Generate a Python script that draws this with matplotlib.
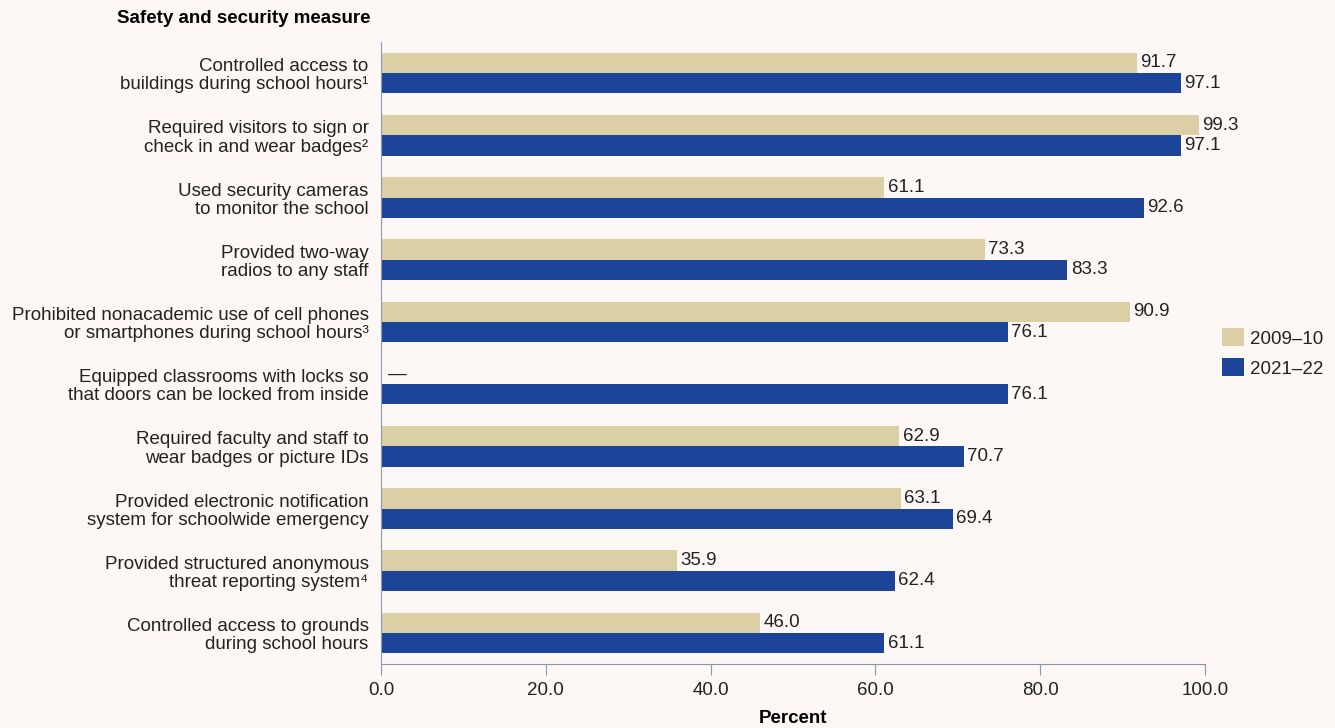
import numpy as np
import matplotlib
matplotlib.use('Agg')
import matplotlib.pyplot as plt

plt.rcParams['font.family'] = ['Liberation Sans', 'DejaVu Sans']

# Dados
medidas = [
    'Controlled access to\nbuildings during school hours¹',
    'Required visitors to sign or\ncheck in and wear badges²',
    'Used security cameras\nto monitor the school',
    'Provided two-way\nradios to any staff',
    'Prohibited nonacademic use of cell phones\nor smartphones during school hours³',
    'Equipped classrooms with locks so\nthat doors can be locked from inside',
    'Required faculty and staff to\nwear badges or picture IDs',
    'Provided electronic notification\nsystem for schoolwide emergency',
    'Provided structured anonymous\nthreat reporting system⁴',
    'Controlled access to grounds\nduring school hours',
]
valores_2009 = [91.7, 99.3, 61.1, 73.3, 90.9, np.nan, 62.9, 63.1, 35.9, 46.0]
valores_2021 = [97.1, 97.1, 92.6, 83.3, 76.1, 76.1, 70.7, 69.4, 62.4, 61.1]
anos = ['2009–10', '2021–22']
ticks_x = [0, 20, 40, 60, 80, 100]

fundo = '#FDF8F5'
cor_tan = '#DCCFA5'
cor_azul = '#1C4599'
cor_texto = '#222222'
cor_eixo = '#8A9AAE'
fs = 13.5

fig = plt.figure(figsize=(13.35, 7.28), dpi=100, facecolor=fundo)
ax = fig.add_axes([0.2854, 0.0879, 0.6172, 0.8544], facecolor=fundo)

y = np.arange(len(medidas))
h = 0.325
ax.barh(y - h / 2, np.nan_to_num(valores_2009), height=h, color=cor_tan, label=anos[0])
ax.barh(y + h / 2, valores_2021, height=h, color=cor_azul, label=anos[1])

# Rótulos dos valores
for i in range(len(medidas)):
    v1 = valores_2009[i]
    if np.isnan(v1):
        ax.text(0.8, y[i] - h / 2, '—', va='center', ha='left', fontsize=fs, color=cor_texto)
    else:
        ax.text(v1 + 0.4, y[i] - h / 2, f'{v1:.1f}', va='center', ha='left', fontsize=fs, color=cor_texto)
    v2 = valores_2021[i]
    ax.text(v2 + 0.4, y[i] + h / 2, f'{v2:.1f}', va='center', ha='left', fontsize=fs, color=cor_texto)

ax.set_xlim(0, 100)
ax.set_ylim(len(medidas) - 0.5, -0.5)
ax.set_yticks(y)
ax.set_yticklabels(medidas, fontsize=fs, color=cor_texto, linespacing=1.1)
ax.set_xticks(ticks_x)
ax.set_xticklabels([f'{t:.1f}' for t in ticks_x], fontsize=fs, color=cor_texto)
ax.tick_params(axis='y', length=0, pad=9)
ax.tick_params(axis='x', direction='out', length=8, color=cor_eixo, pad=5)

for s in ['top', 'right']:
    ax.spines[s].set_visible(False)
ax.spines['left'].set_color(cor_eixo)
ax.spines['bottom'].set_color(cor_eixo)

ax.set_xlabel('Percent', fontsize=fs, fontweight='bold', color='black', labelpad=8)
fig.text(0.2772, 0.975, 'Safety and security measure', ha='right', va='center',
         fontsize=fs, fontweight='bold', color='black')

leg = ax.legend(loc='center left', bbox_to_anchor=(1.0206, 0.5), frameon=False,
                fontsize=fs, handlelength=1.17, handleheight=1.1, handletextpad=0.33,
                labelspacing=0.55, borderaxespad=0, borderpad=0)
for t in leg.get_texts():
    t.set_color(cor_texto)

fig.savefig('out.png', dpi=100, facecolor=fundo)
